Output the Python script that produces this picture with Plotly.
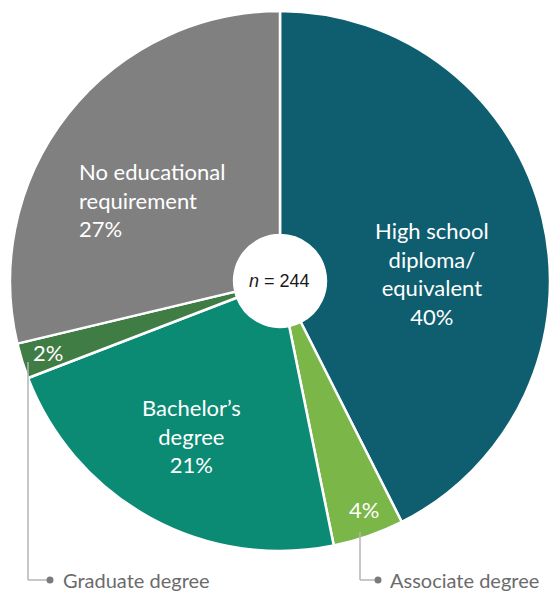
import math
import plotly.graph_objects as go

# ---- data ----
categories = ["High school diploma/equivalent", "Associate degree", "Bachelor’s degree",
              "Graduate degree", "No educational requirement"]
inside_labels = ["High school<br>diploma/<br>equivalent", "", "Bachelor’s<br>degree", "",
                 "No educational<br>requirement"]
percents = [40, 4, 21, 2, 27]
n_total = 244
colors = ["#0E5E6F", "#7AB648", "#0B8A74", "#3F7D45", "#808080"]

W, H = 550, 592
CX, CY, R = 280, 281, 270  # pie placement in px

fig = go.Figure()
fig.add_trace(go.Pie(
    labels=categories, values=percents, sort=False, direction="clockwise", rotation=0,
    hole=0.17, textinfo="none", hoverinfo="label+percent",
    marker=dict(colors=colors, line=dict(color="white", width=2.5)),
    domain=dict(x=[(CX - R) / W, (CX + R) / W], y=[1 - (CY + R) / H, 1 - (CY - R) / H]),
    showlegend=False,
))

def px(x, y):
    return x / W, 1 - y / H

# label positions from cumulative angles
total = sum(percents)
radius_f = [0.563, 0.90, 0.66, 0.90, 0.558]
ang_shift = [10.5, -1, 1, 0, -5.8]
annotations = []
cum = 0
for i, p in enumerate(percents):
    mid = (cum + p / 2) / total * 360 + ang_shift[i]
    cum += p
    r = R * radius_f[i]
    x = CX + r * math.sin(math.radians(mid))
    y = CY - r * math.cos(math.radians(mid))
    txt = (inside_labels[i] + "<br>" if inside_labels[i] else "") + f"{p}%"
    ax, ay = px(x, y)
    annotations.append(dict(
        x=ax, y=ay, xref="paper", yref="paper", text=txt, showarrow=False,
        align="left" if i == 4 else "center", xanchor="center", yanchor="middle",
        font=dict(family="Lato, 'Noto Sans', sans-serif", size=22, color="white"),
    ))

# center n label
cx_, cy_ = px(CX, CY)
annotations.append(dict(x=cx_, y=cy_, xref="paper", yref="paper", text=f"<i>n</i> = {n_total}",
                        showarrow=False, font=dict(family="Liberation Sans, Arial, sans-serif",
                                                   size=18, color="#1a1a1a")))

# callout labels
label_font = dict(family="Lato, 'Noto Sans', sans-serif", size=20, color="#6b6b6b")
gx, gy = px(61, 580)
annotations.append(dict(x=gx, y=gy, xref="paper", yref="paper", text=categories[3],
                        showarrow=False, xanchor="left", yanchor="middle", font=label_font))
ax_, ay_ = px(388, 580)
annotations.append(dict(x=ax_, y=ay_, xref="paper", yref="paper", text=categories[1],
                        showarrow=False, xanchor="left", yanchor="middle", font=label_font))

shapes = []
line_style = dict(color="#b5b5b5", width=1.5)
for (x0, y0, x1) in [(28, 362, 50), (360, 532, 378)]:
    a, b = px(x0, y0)
    c, d = px(x0, 580)
    e, f = px(x1, 580)
    shapes.append(dict(type="line", xref="paper", yref="paper", x0=a, y0=b, x1=c, y1=d, line=line_style))
    shapes.append(dict(type="line", xref="paper", yref="paper", x0=c, y0=d, x1=e, y1=f, line=line_style))
    shapes.append(dict(type="circle", xref="paper", yref="paper",
                       x0=(x1 - 3.5) / W, x1=(x1 + 3.5) / W, y0=1 - 583.5 / H, y1=1 - 576.5 / H,
                       fillcolor="#7a7a7a", line=dict(width=0)))

fig.update_layout(
    width=W, height=H, margin=dict(l=0, r=0, t=0, b=0),
    paper_bgcolor="white", plot_bgcolor="white",
    annotations=annotations, shapes=shapes,
)
fig.write_html("out.html", config={"displayModeBar": False},
               post_script="document.body.style.margin='0';")
